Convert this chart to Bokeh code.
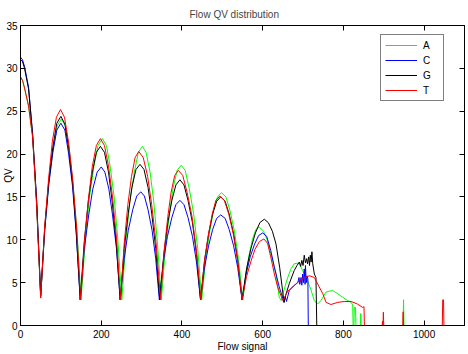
from bokeh.plotting import figure
from bokeh.models import Range1d, FixedTicker, LinearAxis
from bokeh.embed import file_html
from bokeh.resources import INLINE

# ---- data ----
series_names = ["A", "C", "G", "T"]
series_colors = ["#00ff00", "#0000ff", "#000000", "#ff0000"]

xA = [0, 5, 10, 20, 30, 40, 50, 60, 70, 81, 91, 101, 111, 121, 130, 140, 150,
      161, 171, 182, 192, 203, 213, 222, 232, 241, 251, 261, 271, 282, 292, 302,
      311, 321, 330, 339, 349, 359, 369, 378, 388, 398, 408, 418, 429, 439, 449,
      459, 469, 478, 488, 498, 509, 519, 530, 540, 551, 559, 567, 575, 583, 591,
      602, 611, 620, 633, 641, 646, 650, 662, 670, 678, 690, 699, 711, 720, 728,
      736, 744, 757, 773, 786, 798, 811, 819, 823, 824, 826, 827, 830, 831, 842,
      843, 844, 948, 949, 950, 1100]
yA = [29.0, 28.6, 27.7, 25.6, 22.0, 14.0, 3.2, 11.1, 16.6, 20.5, 23.3, 24.1, 23.3, 20.5, 16.5, 11.0, 3.0,
      10.1, 15.0, 18.6, 21.0, 21.8, 21.0, 18.6, 15.0, 10.1, 3.0, 9.8, 14.5, 17.9, 20.2, 20.9,
      20.2, 17.9, 14.5, 9.8, 3.0, 9.0, 13.0, 16.0, 18.1, 18.7, 18.1, 16.0, 13.0, 9.0, 3.0,
      7.8, 11.0, 13.4, 15.0, 15.5, 15.0, 13.4, 11.0, 7.8, 3.0, 6.2, 8.4, 10.1, 11.2, 11.5,
      11.0, 10.0, 8.4, 6.0, 3.3, 2.9, 3.7, 5.6, 6.6, 7.2, 7.3, 6.4, 5.25, 4.1, 2.9,
      2.5, 2.9, 3.9, 4.1, 3.7, 3.3, 2.9, 2.7, 2.4, 0.0, 0.0, 2.1, 2.1, 0.0, 0.0,
      1.4, 0.0, 0.0, 3.0, 0.0, 0.0]

xC = [0, 5, 10, 20, 30, 40, 50, 60, 70, 80, 90, 100, 110, 119, 129, 138, 148,
      158, 169, 179, 190, 200, 209, 219, 228, 238, 247, 257, 267, 278, 288, 298,
      307, 316, 326, 335, 344, 354, 364, 375, 385, 395, 405, 415, 426, 436, 446,
      456, 466, 476, 486, 496, 507, 517, 528, 538, 549, 559, 569, 580, 590, 600,
      610, 620, 629, 641, 653, 656, 659, 666, 676, 687, 690, 692, 695, 697, 699,
      701, 703, 705, 706, 708, 710, 712, 713]
yC = [31.3, 31.0, 30.2, 27.8, 22.3, 14.5, 3.5, 11.1, 16.4, 20.2, 22.8, 23.6, 22.8, 20.1, 16.2, 10.8, 3.0,
      8.9, 12.9, 15.9, 17.9, 18.5, 17.9, 15.9, 12.9, 8.9, 3.0, 7.8, 11.1, 13.5, 15.1, 15.6,
      15.1, 13.5, 11.1, 7.8, 3.0, 7.4, 10.4, 12.6, 14.1, 14.6, 14.1, 12.6, 10.4, 7.4, 3.0,
      6.8, 9.3, 11.2, 12.5, 12.9, 12.5, 11.2, 9.3, 6.8, 3.0, 6.0, 8.0, 9.5, 10.5, 10.8,
      10.4, 8.75, 6.8, 4.5, 2.7, 3.4, 2.8, 4.1, 4.6, 5.0, 5.6, 4.8, 5.6, 4.7, 6.0,
      5.0, 6.6, 4.8, 7.0, 5.0, 5.8, 5.4, 0.0]

xG = [0, 5, 10, 20, 30, 40, 50, 60, 70, 80, 90, 100, 110, 119, 129, 138, 148,
      158, 168, 178, 188, 198, 208, 218, 227, 237, 247, 257, 267, 276, 286, 296,
      306, 316, 325, 335, 345, 355, 365, 375, 385, 395, 405, 415, 426, 436, 446,
      456, 466, 476, 486, 496, 507, 517, 528, 538, 549, 560, 571, 582, 593, 604,
      614, 624, 633, 642, 653, 658, 666, 678, 685, 691, 694, 697, 700, 703, 706,
      709, 711, 714, 716, 718, 720, 722, 724, 728, 732, 734]
yG = [31.0, 30.8, 30.0, 27.6, 22.3, 14.5, 3.5, 11.4, 16.9, 20.8, 23.6, 24.4, 23.5, 20.8, 16.7, 11.1, 3.0,
      9.8, 14.5, 17.9, 20.2, 20.9, 20.2, 17.9, 14.5, 9.8, 3.0, 9.0, 13.1, 16.1, 18.2, 18.8,
      18.2, 16.1, 13.1, 9.0, 3.0, 8.3, 12.0, 14.6, 16.4, 17.0, 16.4, 14.6, 12.0, 8.3, 3.0,
      7.6, 10.7, 13.0, 14.5, 15.0, 14.5, 13.0, 10.7, 7.6, 3.0, 6.6, 9.0, 10.8, 12.0, 12.4,
      12.0, 11.0, 9.5, 6.8, 2.7, 3.7, 4.9, 6.4, 7.0, 7.4, 6.9, 7.6, 7.0, 8.2, 7.3,
      7.8, 7.2, 8.0, 7.0, 8.2, 7.4, 8.6, 7.2, 6.0, 5.6, 0.0]

xT = [0, 5, 10, 20, 30, 40, 50, 60, 70, 79, 89, 99, 109, 119, 129, 139, 149,
      159, 169, 178, 188, 198, 208, 218, 228, 238, 248, 257, 266, 275, 284, 293,
      304, 315, 325, 336, 347, 356, 365, 373, 382, 391, 402, 413, 425, 436, 447,
      456, 466, 475, 484, 494, 505, 516, 527, 538, 549, 560, 571, 581, 592, 603,
      612, 620, 629, 637, 650, 662, 670, 687, 703, 716, 728, 740, 749, 757, 769,
      786, 802, 819, 835, 848, 851, 852, 896, 897, 898, 899, 900, 947, 948, 949,
      1045, 1046, 1048, 1049, 1100]
yT = [29.0, 28.6, 27.7, 25.6, 22.0, 14.0, 3.2, 11.6, 17.3, 21.5, 24.3, 25.2, 24.3, 21.4, 17.2, 11.4, 3.0,
      10.1, 15.0, 18.6, 21.0, 21.8, 21.0, 18.6, 15.0, 10.1, 3.0, 9.6, 14.1, 17.4, 19.6, 20.3,
      19.6, 17.4, 14.1, 9.6, 3.0, 8.7, 12.7, 15.5, 17.5, 18.1, 17.5, 15.5, 12.7, 8.7, 3.0,
      7.6, 10.7, 13.0, 14.6, 15.1, 14.6, 13.0, 10.7, 7.6, 3.0, 5.7, 7.5, 8.9, 9.8, 10.1,
      9.6, 8.0, 6.0, 4.5, 2.9, 4.0, 4.3, 5.05, 5.6, 5.8, 5.6, 4.5, 3.7, 2.7, 2.45,
      2.7, 2.8, 2.8, 2.5, 2.1, 2.2, 0.0, 0.0, 0.5, 0.0, 1.55, 0.0, 0.0, 1.6, 0.0,
      0.0, 3.0, 3.0, 0.0, 0.0]

x_ticks = [0, 200, 400, 600, 800, 1000]
y_ticks = [0, 5, 10, 15, 20, 25, 30, 35]

FONT = "Liberation Sans"

p = figure(width=468, height=354, x_range=Range1d(0, 1100), y_range=Range1d(0, 35),
           output_backend="svg", toolbar_location=None,
           min_border_left=20, min_border_right=4, min_border_top=25, min_border_bottom=29,
           background_fill_color="white", border_fill_color="white")

p.title.text = "Flow QV distribution"
p.title.text_font = FONT
p.title.text_font_size = "10px"
p.title.text_font_style = "normal"
p.title.align = "left"
p.title.offset = 169
p.title.standoff = 11

p.outline_line_color = "black"
p.outline_line_width = 1
p.xgrid.visible = False
p.ygrid.visible = False

for ax, ticks in ((p.xaxis[0], x_ticks), (p.yaxis[0], y_ticks)):
    ax.ticker = FixedTicker(ticks=ticks)
    ax.major_tick_in = 5
    ax.major_tick_out = 0
    ax.minor_tick_in = 0
    ax.minor_tick_out = 0
    ax.axis_line_color = "black"
    ax.major_tick_line_color = "black"
    ax.major_label_text_font = FONT
    ax.major_label_text_font_size = "10px"
    ax.major_label_text_color = "black"
    ax.axis_label_text_font = FONT
    ax.axis_label_text_font_size = "10px"
    ax.axis_label_text_font_style = "normal"
    ax.axis_label_text_color = "black"

p.xaxis[0].axis_label = "Flow signal"
p.xaxis[0].major_label_standoff = 4
p.xaxis[0].axis_label_standoff = 0
p.yaxis[0].axis_label = "QV"
p.yaxis[0].major_label_standoff = 3
p.yaxis[0].axis_label_standoff = -11

for side, ticks in (("right", y_ticks), ("above", x_ticks)):
    ax = LinearAxis(ticker=FixedTicker(ticks=ticks))
    ax.major_tick_in = 5
    ax.major_tick_out = 0
    ax.minor_tick_in = 0
    ax.minor_tick_out = 0
    ax.major_label_overrides = {t: "" for t in ticks}
    ax.major_label_standoff = 0
    ax.axis_line_color = "black"
    ax.major_tick_line_color = "black"
    p.add_layout(ax, side)

data = [(xA, yA), (xC, yC), (xG, yG), (xT, yT)]
for (xs, ys), name, col in zip(data, series_names, series_colors):
    p.line(xs, ys, line_color=col, line_width=1, legend_label=name)

lg = p.legend[0]
lg.location = (360, 224)
lg.label_text_font = FONT
lg.label_text_font_size = "10px"
lg.label_text_color = "black"
lg.border_line_color = "black"
lg.border_line_width = 1
lg.background_fill_color = "white"
lg.background_fill_alpha = 1.0
lg.padding = 4
lg.spacing = 3
lg.margin = 0
lg.glyph_width = 32
lg.glyph_height = 12
lg.label_height = 12
lg.label_width = 16
lg.label_standoff = 6

open("out.html", "w").write(file_html(p, INLINE))
